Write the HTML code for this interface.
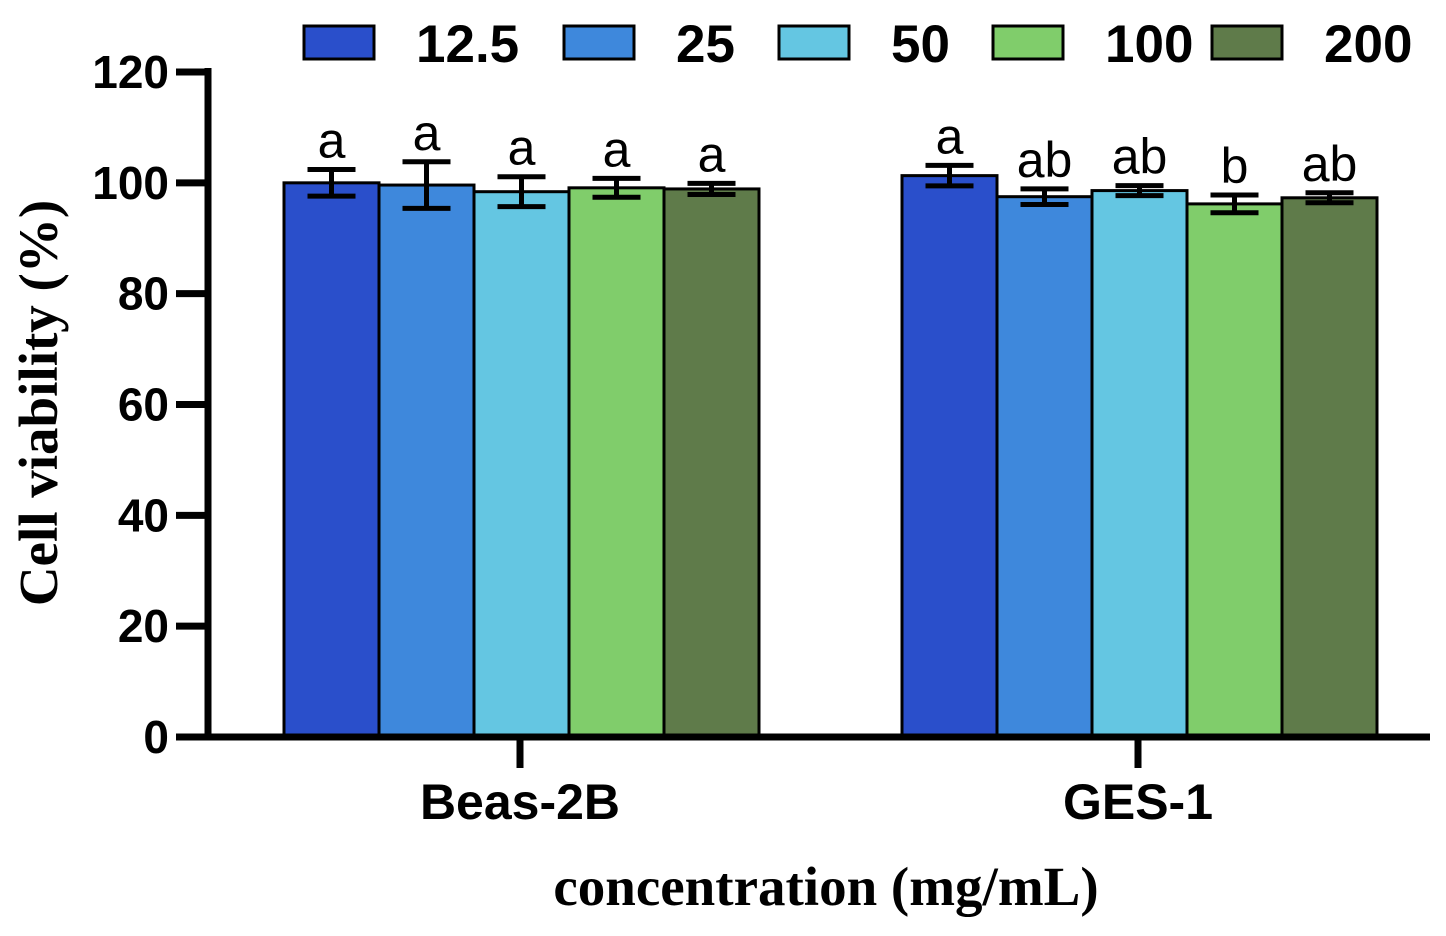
<!DOCTYPE html>
<html><head><meta charset="utf-8"><style>body{margin:0;background:#fff}svg{display:block}</style></head>
<body>
<svg id="chart" width="1446" height="936" xmlns="http://www.w3.org/2000/svg" font-family="Liberation Sans, Arial, sans-serif"></svg>
<script>
const groups = ["Beas-2B", "GES-1"];
const series = ["12.5", "25", "50", "100", "200"];
const colors = ["#2a4fcb", "#3e88dc", "#64c6e2", "#80cd6b", "#5f7b4a"];
const meansBeas = [100.0, 99.6, 98.4, 99.1, 98.9];
const errBeas = [2.4, 4.2, 2.7, 1.7, 1.0];
const meansGes = [101.3, 97.5, 98.6, 96.2, 97.3];
const errGes = [1.85, 1.4, 0.9, 1.6, 0.9];
const lettersBeas = ["a", "a", "a", "a", "a"];
const lettersGes = ["a", "ab", "ab", "b", "ab"];
const yTicks = [0, 20, 40, 60, 80, 100, 120];

const svg = document.getElementById('chart');
const NS = "http://www.w3.org/2000/svg";
function mk(tag, attrs, parent) { const e = document.createElementNS(NS, tag); for (const k in attrs) e.setAttribute(k, attrs[k]); (parent || svg).appendChild(e); return e; }
const y = v => 737 - v * (737 - 72) / 120;
const groupStart = [284, 902];
const barW = 95;
const groupCenter = [520, 1138];

const data = [[meansBeas, errBeas, lettersBeas], [meansGes, errGes, lettersGes]];
data.forEach((d, gi) => {
  d[0].forEach((m, si) => {
    const x = groupStart[gi] + si * barW;
    const r = mk('rect', {x: x, y: y(m), width: barW, height: y(0) - y(m), fill: colors[si], stroke: '#000', 'stroke-width': 3});
    
    
    const cx = x + barW / 2, e = d[1][si];
    const eb = mk('g', {stroke: '#000', 'stroke-width': 5});
    
    
    mk('line', {x1: cx, x2: cx, y1: y(m + e), y2: y(m - e)}, eb);
    mk('line', {x1: cx - 24, x2: cx + 24, y1: y(m + e), y2: y(m + e)}, eb);
    mk('line', {x1: cx - 24, x2: cx + 24, y1: y(m - e), y2: y(m - e)}, eb);
    const t = mk('text', {x: cx, y: y(m + e) - 12, 'text-anchor': 'middle', 'font-size': 50});
    t.textContent = d[2][si];
    
    
  });
});

const ax = mk('g', {stroke: '#000', 'stroke-width': 7});


mk('line', {x1: 208, x2: 208, y1: 68, y2: 740}, ax);
mk('line', {x1: 176, x2: 1430, y1: 737, y2: 737}, ax);
yTicks.forEach(v => {
  mk('line', {x1: 176, x2: 208, y1: y(v), y2: y(v)}, ax);
  const t = mk('text', {x: 169, y: y(v) + 16, 'text-anchor': 'end', 'font-size': 46, 'font-weight': 'bold'});
  t.textContent = v;
  
  
});
groups.forEach((g, gi) => {
  mk('line', {x1: groupCenter[gi], x2: groupCenter[gi], y1: 737, y2: 768}, ax);
  const t = mk('text', {x: groupCenter[gi], y: 819, 'text-anchor': 'middle', 'font-size': 50, 'font-weight': 'bold'});
  t.textContent = g;
  
  
});
const yt = mk('text', {x: 0, y: 0, transform: 'translate(57,403) rotate(-90)', 'text-anchor': 'middle', 'font-size': 55, 'font-weight': 'bold', 'font-family': 'Liberation Serif, serif'});
yt.textContent = 'Cell viability (%)';


const xt = mk('text', {x: 826, y: 905, 'text-anchor': 'middle', 'font-size': 55, 'font-weight': 'bold', 'font-family': 'Liberation Serif, serif'});
xt.textContent = 'concentration (mg/mL)';



const legX = [304, 564, 779, 993, 1212];
series.forEach((s, si) => {
  const g = mk('g', {});
  
  
  mk('rect', {x: legX[si], y: 26, width: 70, height: 33, fill: colors[si], stroke: '#000', 'stroke-width': 3}, g);
  const t = mk('text', {x: legX[si] + 112, y: 62, 'font-size': 53, 'font-weight': 'bold'}, g);
  t.textContent = s;
});
</script>
</body></html>
